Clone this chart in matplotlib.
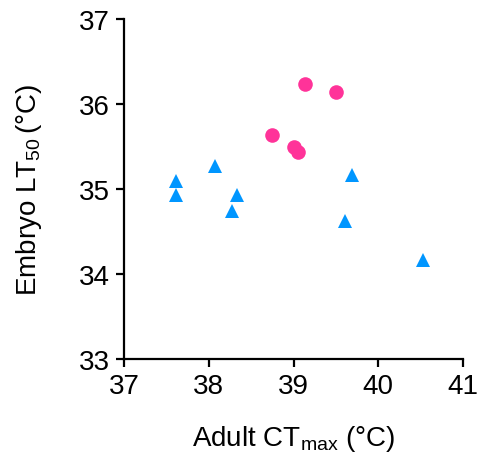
import matplotlib
matplotlib.use("Agg")
import matplotlib.pyplot as plt

plt.rcParams['font.family'] = ['Liberation Sans', 'DejaVu Sans']
plt.rcParams['mathtext.fontset'] = 'custom'
plt.rcParams['mathtext.rm'] = 'Liberation Sans'
plt.rcParams['mathtext.it'] = 'Liberation Sans'

# pink circles
circle_x = [38.75, 39.14, 39.50, 39.00, 39.05]
circle_y = [35.64, 36.24, 36.14, 35.50, 35.43]

# blue triangles
tri_x = [37.62, 37.61, 38.07, 38.33, 38.27, 39.69, 39.61, 40.53]
tri_y = [35.09, 34.93, 35.27, 34.93, 34.74, 35.16, 34.62, 34.16]

x_ticks = [37, 38, 39, 40, 41]
y_ticks = [33, 34, 35, 36, 37]

fig = plt.figure(figsize=(4.8, 4.56), dpi=100)
ax = fig.add_axes([0.258, 0.2105, 0.707, 0.7455])

ax.plot(tri_x, tri_y, '^', color='#0096FF', markersize=10.5, markeredgewidth=0, clip_on=False)
ax.plot(circle_x, circle_y, 'o', color='#FF3399', markersize=10.5, markeredgewidth=0, clip_on=False)

ax.set_xlim(37, 41)
ax.set_ylim(33, 37)
ax.set_xticks(x_ticks)
ax.set_yticks(y_ticks)
for s in ['top', 'right']:
    ax.spines[s].set_visible(False)
for s in ['left', 'bottom']:
    ax.spines[s].set_linewidth(1.6)
ax.tick_params(width=1.6, length=6, labelsize=20, pad=4)

ax.set_xlabel(r'$\mathrm{Adult\ CT_{max}\ (°C)}$', fontsize=20, labelpad=17)
ax.set_ylabel(r'$\mathrm{Embryo\ LT_{50}\,(°C)}$', fontsize=20, labelpad=25)

fig.savefig('out.png', dpi=100)
